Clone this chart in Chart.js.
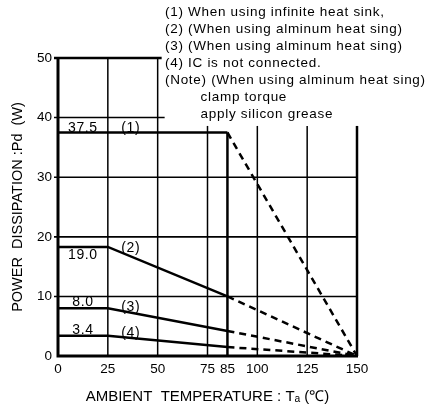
<!DOCTYPE html>
<html>
<head>
<meta charset="utf-8">
<script src="https://cdn.jsdelivr.net/npm/chart.js@4/dist/chart.umd.min.js"></script>
<style>
  html, body { margin: 0; padding: 0; background: #fff; }
  #wrap { width: 427px; height: 412px; }
</style>
</head>
<body>
<div id="wrap"><canvas id="deratingChart" width="427" height="412"></canvas></div>
<script>
// derating curves: ambient temperature (C) -> power dissipation (W)
var tempInfinite = [0, 85, 150];
var pdInfinite = [37.5, 37.5, 0];
var tempAlu = [0, 25, 85, 150];
var pdAlu = [18.3, 18.3, 10.0, 0];
var pdAluSmall = [8.0, 8.0, 4.2, 0];
var pdNoSink = [3.4, 3.4, 1.5, 0];
var xTicks = [0, 25, 50, 75, 85, 100, 125, 150];
var yTicks = [0, 10, 20, 30, 40, 50];
var DERATE_FROM = 85;

var notes = [
  "(1) When using infinite heat sink,",
  "(2) (When using alminum heat sing)",
  "(3) (When using alminum heat sing)",
  "(4) IC is not connected.",
  "(Note) (When using alminum heat sing)",
  "        clamp torque",
  "        apply silicon grease"
];

// in-chart labels, in data units
var curveLabels = [
  { text: "37.5", x: 12.5, y: 38.3 },
  { text: "(1)", x: 36.5, y: 38.3 },
  { text: "19.0", x: 12.5, y: 16.9 },
  { text: "(2)", x: 36.5, y: 18.1 },
  { text: "8.0", x: 12.5, y: 9.0 },
  { text: "(3)", x: 36.5, y: 8.2 },
  { text: "3.4", x: 12.5, y: 4.3 },
  { text: "(4)", x: 36.5, y: 3.8 }
];

var FONT = "'Liberation Sans', Arial, sans-serif";

function toPoints(xs, ys) {
  return xs.map(function (x, i) { return { x: x, y: ys[i] }; });
}

function curve(label, xs, ys) {
  return {
    label: label,
    data: toPoints(xs, ys),
    borderColor: "#000",
    borderWidth: 2.5,
    pointRadius: 0,
    fill: false,
    tension: 0,
    segment: {
      borderDash: function (ctx) {
        return ctx.p0.parsed.x >= DERATE_FROM ? [7, 5] : undefined;
      }
    }
  };
}

// partial grid as in the datasheet figure (upper right is left free for the notes)
var gridPlugin = {
  id: "datasheetGrid",
  beforeDatasetsDraw: function (chart) {
    var ctx = chart.ctx;
    var xs = chart.scales.x, ys = chart.scales.y;
    function h(y, x0, x1, w) {
      ctx.lineWidth = w;
      ctx.beginPath();
      ctx.moveTo(xs.getPixelForValue(x0) - 4, ys.getPixelForValue(y));
      ctx.lineTo(xs.getPixelForValue(x1), ys.getPixelForValue(y));
      ctx.stroke();
    }
    function v(x, y0, y1, w) {
      ctx.lineWidth = w;
      ctx.beginPath();
      ctx.moveTo(xs.getPixelForValue(x), ys.getPixelForValue(y0));
      ctx.lineTo(xs.getPixelForValue(x), ys.getPixelForValue(y1));
      ctx.stroke();
    }
    ctx.save();
    ctx.strokeStyle = "#000";
    h(50, 0, 52, 2.5);
    h(40, 0, 53.5, 1.5);
    h(30, 0, 150, 1.5);
    h(20, 0, 150, 1.8);
    h(10, 0, 150, 1.5);
    v(25, 0, 50, 1.5);
    v(50, 0, 50, 1.5);
    v(75, 0, 38.6, 1.5);
    v(85, 0, 37.5, 2.5);
    v(100, 0, 38.6, 1.5);
    v(125, 0, 38.6, 1.5);
    v(150, 0, 38.6, 2.5);
    // axes
    ctx.lineWidth = 3;
    ctx.beginPath();
    ctx.moveTo(xs.getPixelForValue(0), ys.getPixelForValue(50));
    ctx.lineTo(xs.getPixelForValue(0), ys.getPixelForValue(0));
    ctx.lineTo(xs.getPixelForValue(150) + 1, ys.getPixelForValue(0));
    ctx.stroke();
    ctx.restore();
  },
  afterDatasetsDraw: function (chart) {
    var ctx = chart.ctx;
    var xs = chart.scales.x, ys = chart.scales.y;
    ctx.save();
    ctx.fillStyle = "#000";
    ctx.letterSpacing = "0.6px";
    ctx.font = "14px " + FONT;
    ctx.textAlign = "center";
    ctx.textBaseline = "middle";
    curveLabels.forEach(function (l) {
      ctx.fillText(l.text, xs.getPixelForValue(l.x), ys.getPixelForValue(l.y));
    });
    ctx.textAlign = "left";
    ctx.letterSpacing = "0.7px";
    ctx.font = "13.5px " + FONT;
    notes.forEach(function (t, i) {
      ctx.fillText(t, 165, 12 + i * 17);
    });
    ctx.restore();
  }
};

new Chart(document.getElementById("deratingChart"), {
  type: "line",
  data: {
    datasets: [
      curve("(1)", tempInfinite, pdInfinite),
      curve("(2)", tempAlu, pdAlu),
      curve("(3)", tempAlu, pdAluSmall),
      curve("(4)", tempAlu, pdNoSink)
    ]
  },
  options: {
    responsive: false,
    animation: false,
    layout: { padding: { left: 0, top: 58, right: 70, bottom: 0 } },
    plugins: { legend: { display: false }, tooltip: { enabled: false } },
    scales: {
      x: {
        type: "linear",
        min: 0,
        max: 150,
        afterBuildTicks: function (scale) {
          scale.ticks = xTicks.map(function (v) { return { value: v }; });
        },
        afterFit: function (scale) { scale.height = 56; },
        grid: { display: false, drawTicks: false },
        border: { display: false },
        ticks: {
          autoSkip: false,
          maxRotation: 0,
          padding: 5,
          color: "#000",
          font: { family: FONT, size: 13.5 }
        },
        title: {
          display: true,
          text: "AMBIENT  TEMPERATURE : T\u2090 (\u2103)",
          color: "#000",
          font: { family: FONT, size: 15 },
          padding: { top: 0, bottom: 6 }
        }
      },
      y: {
        type: "linear",
        min: 0,
        max: 50,
        afterBuildTicks: function (scale) {
          scale.ticks = yTicks.map(function (v) { return { value: v }; });
        },
        afterFit: function (scale) { scale.width = 58; },
        grid: { display: false, drawTicks: false },
        border: { display: false },
        ticks: {
          padding: 6,
          color: "#000",
          font: { family: FONT, size: 13.5 }
        },
        title: {
          display: true,
          text: "POWER  DISSIPATION :Pd  (W)",
          color: "#000",
          font: { family: FONT, size: 14.5 },
          padding: { top: 9, bottom: 0 }
        }
      }
    }
  },
  plugins: [gridPlugin]
});
</script>
</body>
</html>
